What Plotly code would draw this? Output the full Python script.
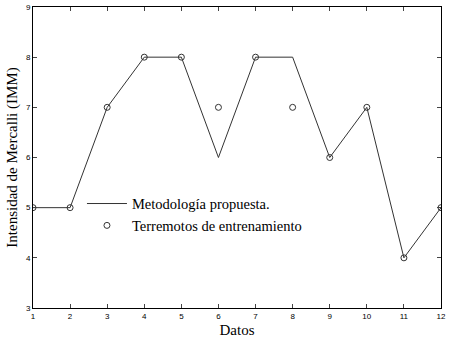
import plotly.graph_objects as go

datos = [1, 2, 3, 4, 5, 6, 7, 8, 9, 10, 11, 12]
metodologia = [5, 5, 7, 8, 8, 6, 8, 8, 6, 7, 4, 5]
terremotos = [5, 5, 7, 8, 8, 7, 8, 7, 6, 7, 4, 5]
xticks = list(range(1, 13))
yticks = [3, 4, 5, 6, 7, 8, 9]

fig = go.Figure()
fig.add_trace(go.Scatter(x=datos, y=metodologia, mode="lines",
                         line=dict(color="#333333", width=1),
                         name="Metodología propuesta."))
fig.add_trace(go.Scatter(x=datos, y=terremotos, mode="markers",
                         marker=dict(symbol="circle-open", size=6, color="#333333",
                                     line=dict(width=1, color="#333333")),
                         name="Terremotos de entrenamiento"))

serif = "Liberation Serif, Times New Roman, serif"
sans = "Liberation Sans, Arial, sans-serif"
fig.update_layout(
    width=453, height=344,
    margin=dict(l=33, r=12, t=7, b=36),
    paper_bgcolor="white", plot_bgcolor="white",
    showlegend=True,
    legend=dict(x=0.12, y=0.40, xanchor="left", yanchor="top",
                bgcolor="rgba(255,255,255,0.9)", borderwidth=0,
                font=dict(family=serif, size=14.5, color="black"),
                itemwidth=40, tracegroupgap=0),
    xaxis=dict(range=[1, 12], tickvals=xticks, ticks="inside", ticklen=4,
               automargin=False,
               showgrid=False, zeroline=False, showline=True, linecolor="black",
               linewidth=1, mirror="ticks",
               tickfont=dict(family=sans, size=8, color="black"),
               title=dict(text="Datos", font=dict(family=serif, size=15, color="black"),
                          standoff=4)),
    yaxis=dict(range=[3, 9], tickvals=yticks, ticks="inside", ticklen=4,
               automargin=False,
               showgrid=False, zeroline=False, showline=True, linecolor="black",
               linewidth=1, mirror="ticks",
               tickfont=dict(family=sans, size=8, color="black"),
               title=dict(text="Intensidad de Mercalli (IMM)",
                          font=dict(family=serif, size=15, color="black"),
                          standoff=4)),
)
fig.write_html("out.html", config={"displayModeBar": False},
               post_script="document.body.style.margin='0';document.body.style.overflow='hidden';")
